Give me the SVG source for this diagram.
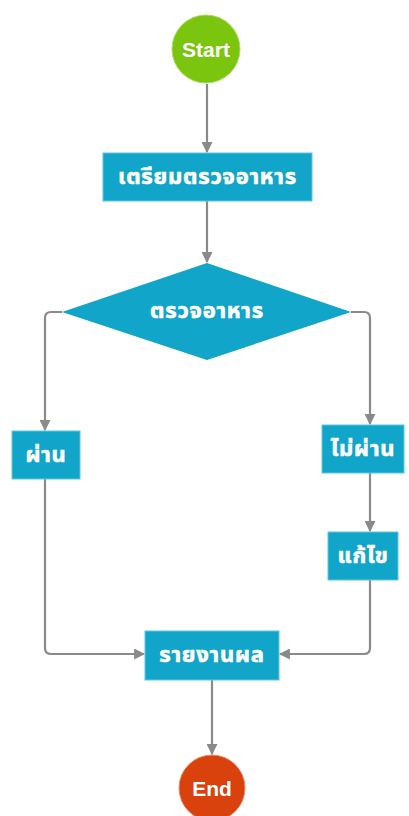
<svg xmlns="http://www.w3.org/2000/svg" width="409" height="816" viewBox="0 0 409 816">
<style>
.c{fill:none;stroke:#8a8a8a;stroke-width:2.2;marker-end:url(#ah)}
.box{fill:#10a5c9;stroke:#5fc6e0;stroke-width:1}
.t{font-family:"Noto Sans Thai","Tahoma","DejaVu Sans","Noto Sans",sans-serif;font-weight:bold;font-size:22px;letter-spacing:0.8px;fill:#ffffff;stroke:#ffffff;stroke-width:0.6;text-anchor:middle;dominant-baseline:central}
.te{font-family:"Liberation Sans","Arial",sans-serif;font-weight:bold;font-size:21px;fill:#ffffff;text-anchor:middle;dominant-baseline:central}
</style>
<defs>
<marker id="ah" viewBox="0 0 10 10" refX="9" refY="5" markerWidth="5" markerHeight="5" orient="auto" markerUnits="strokeWidth">
<path d="M0,0 L10,5 L0,10 z" fill="#8a8a8a"/>
</marker>
</defs>
<rect width="409" height="816" fill="#ffffff"/>
<g id="connectors">
<path class="c" d="M207,84 V152"/>
<path class="c" d="M207,201 V262"/>
<path class="c" d="M62,312 H51 Q45,312 45,318 V430"/>
<path class="c" d="M351,312 H364 Q370,312 370,318 V424"/>
<path class="c" d="M370,473 V531"/>
<path class="c" d="M45,479 V648 Q45,654 51,654 H144"/>
<path class="c" d="M370,580 V648 Q370,654 364,654 H280"/>
<path class="c" d="M212,680 V754"/>
</g>
<g id="start">
<circle cx="206" cy="49" r="34" fill="#7cc50f" stroke="#a8dc60" stroke-width="1"/>
<text class="te" x="206" y="49">Start</text>
</g>
<g id="prepare">
<rect class="box" x="103" y="153" width="209" height="48"/>
<text class="t" x="207.5" y="177">เตรียมตรวจอาหาร</text>
</g>
<g id="check">
<polygon points="207,263 351,312 207,360 62,312" fill="#10a5c9"/>
<text class="t" x="207" y="311">ตรวจอาหาร</text>
</g>
<g id="pass">
<rect class="box" x="12" y="431" width="68" height="48"/>
<text class="t" x="46" y="455">ผ่าน</text>
</g>
<g id="fail">
<rect class="box" x="322" y="425" width="82" height="48"/>
<text class="t" x="363" y="449">ไม่ผ่าน</text>
</g>
<g id="fix">
<rect class="box" x="328" y="532" width="70" height="48"/>
<text class="t" x="363" y="556">แก้ไข</text>
</g>
<g id="report">
<rect class="box" x="145" y="631" width="134" height="49"/>
<text class="t" x="212" y="655">รายงานผล</text>
</g>
<g id="end">
<circle cx="212" cy="788" r="33" fill="#d9420d" stroke="#e88a66" stroke-width="1"/>
<text class="te" x="212" y="788">End</text>
</g>
</svg>
